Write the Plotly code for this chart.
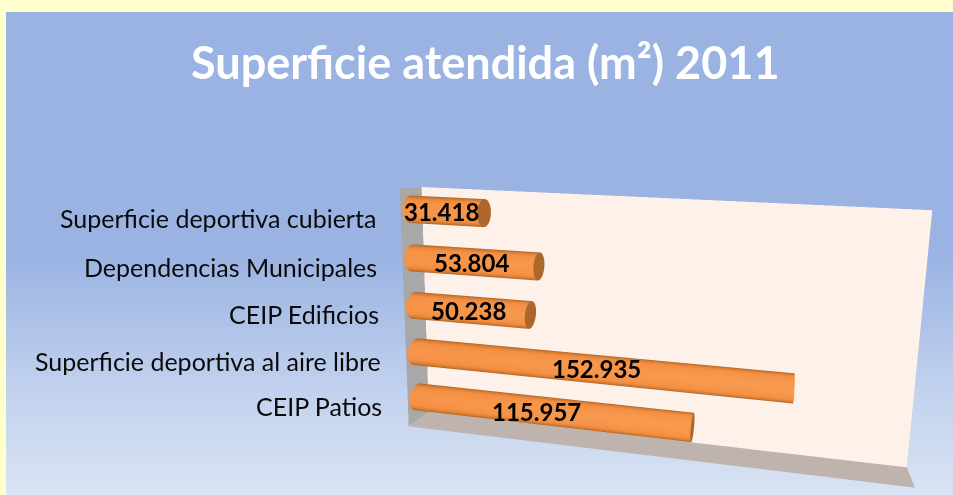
import numpy as np
import plotly.graph_objects as go

categories = ["CEIP Patios", "Superficie deportiva al aire libre", "CEIP Edificios", "Dependencias Municipales", "Superficie deportiva cubierta"]
values = [115957, 152935, 50238, 53804, 31418]
labels = ["115.957", "152.935", "50.238", "53.804", "31.418"]
label_xshift = [-13, 2, -3, -3, -6]

W, H = 953, 495
E = np.array([0.46465, -2.21904, 0.66897])
fwd = np.array([-0.17092, 0.9732, -0.15386])
up = np.array([-0.05879, 0.1458, 0.98757])
C = E + 2.0 * fwd
X, Y, x_max, yb, z0, dz = 2.02828, 0.1477, 196656.0, 0.45385, 0.10453, 0.20207
radius = 0.056
FLAT = dict(ambient=1, diffuse=0, specular=0, roughness=1, fresnel=0)

fig = go.Figure()
fig.add_trace(go.Scatter(x=[0, 1, 1, 0, 0], y=[0, 0, 1, 1, 0], fill="toself", mode="none", hoverinfo="skip", showlegend=False,
    fillgradient=dict(type="vertical", colorscale=[[0, "#d8e3f3"], [0.2, "#c4d3ee"], [0.5, "#9ab3e3"], [1, "#9ab3e3"]])))

def plane(xs, ys, zs, color):
    fig.add_trace(go.Surface(x=xs, y=ys, z=zs, surfacecolor=np.zeros_like(np.array(zs, float)), colorscale=[[0, color], [1, color]],
        showscale=False, hoverinfo="skip", lighting=FLAT))

plane([[0, x_max], [0, x_max]], [[1, 1], [1, 1]], [[0, 0], [1, 1]], "#fef1ea")
plane([[0, x_max], [0, x_max]], [[0, 0], [1, 1]], [[0, 0], [0, 0]], "#bfb3ae")
plane([[0, 0], [0, 0]], [[0, 1], [0, 1]], [[0, 0], [1, 1]], "#a8a8a8")

th = np.linspace(0, 2 * np.pi, 61)
bar_scale = [[0, "#8f5322"], [0.3, "#c4722d"], [0.65, "#f48f42"], [1, "#f79a50"]]
ann = []
for i, v in enumerate(values):
    zc = z0 + i * dz
    T, Xg = np.meshgrid(th, np.array([0, v], float))
    Yg = yb + radius * np.cos(T) / Y
    Zg = zc + radius * np.sin(T)
    n = np.stack([0 * T, np.cos(T), np.sin(T)], -1)
    Ps = np.stack([(Xg / x_max - .5) * X, (Yg - .5) * Y, Zg - .5], -1)
    vd = E - Ps
    vd = vd / np.linalg.norm(vd, axis=-1, keepdims=True)
    sc = np.clip((n * vd).sum(-1), 0, 1)
    fig.add_trace(go.Surface(x=Xg, y=Yg, z=Zg, surfacecolor=sc, cmin=0, cmax=1, colorscale=bar_scale, showscale=False,
        hoverinfo="skip", lighting=FLAT))
    T2, Rr = np.meshgrid(th, np.array([0, 1.]))
    fig.add_trace(go.Surface(x=v + 0 * T2, y=yb + Rr * radius * np.cos(T2) / Y, z=zc + Rr * radius * np.sin(T2), surfacecolor=0 * T2,
        colorscale=[[0, "#ad672c"], [1, "#ad672c"]], showscale=False, hoverinfo="skip", lighting=FLAT))
    ann.append(dict(x=v / 2, y=yb, z=zc, text=labels[i], showarrow=False,
                    font=dict(family="Lato", size=24, color="#000000", weight="bold"), xshift=label_xshift[i], yshift=0))
    ann.append(dict(x=0, y=yb, z=zc, text=categories[i], showarrow=False,
                    font=dict(family="Lato", size=25, color="#0a0a0a"), xanchor="right", xshift=-33, yshift=-9))

ax = dict(visible=False, showgrid=False, zeroline=False, showbackground=False, showspikes=False)
fig.update_layout(
    width=W, height=H, margin=dict(l=0, r=0, t=0, b=0), paper_bgcolor="#ffffcc", plot_bgcolor="rgba(0,0,0,0)", showlegend=False,
    xaxis=dict(domain=[6 / 953, 1], range=[0, 1], visible=False), yaxis=dict(domain=[0, 1 - 12 / 495], range=[0, 1], visible=False),
    scene=dict(domain=dict(x=[391 / 953, 1], y=[0, 1]), bgcolor="rgba(0,0,0,0)",
        xaxis=dict(ax, range=[0, x_max]), yaxis=dict(ax, range=[0, 1]), zaxis=dict(ax, range=[0, 1]),
        aspectmode="manual", aspectratio=dict(x=X, y=Y, z=1),
        camera=dict(eye=dict(x=E[0], y=E[1], z=E[2]), center=dict(x=C[0], y=C[1], z=C[2]), up=dict(x=up[0], y=up[1], z=up[2])),
        annotations=ann),
    annotations=[dict(x=0.5098, y=1 - 62 / 495, xref="paper", yref="paper", yanchor="middle", text="Superficie atendida (m²) 2011", showarrow=False,
        font=dict(family="Lato", size=45, color="#ffffff", weight="bold"))],
)
fig.write_html("out.html", post_script="document.body.style.margin='0';", config=dict(displayModeBar=False))
